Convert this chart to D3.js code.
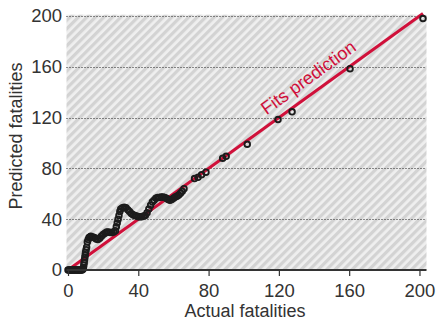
<!DOCTYPE html>
<html>
<head>
<meta charset="utf-8">
<script src="https://cdn.jsdelivr.net/npm/d3@7"></script>
<style>
  body { margin: 0; background: #fff; }
  text { font-family: "Liberation Sans", Arial, sans-serif; }
</style>
</head>
<body>
<script>
// Chart size
let width = 436;
let height = 322;

// Tick values
var xTicks = [0, 40, 80, 120, 160, 200];
var yTicks = [0, 40, 80, 120, 160, 200];

// Actual vs predicted fatalities
var actual = [0, 0.5, 1, 1.5, 2, 2.5, 3, 3.5, 4, 4.5, 5, 5.5, 6, 6.5, 7, 7.5, 8, 8.5,
  8.8, 9, 9.2, 9.4, 9.6, 9.8, 10, 10.3, 10.6, 11, 11.5, 12, 12.5, 13, 14, 15, 16, 17,
  18, 19, 20, 21, 22, 23, 24, 25, 26, 27, 27.5, 28, 28.5, 29, 29.5, 30, 31, 32, 33, 34,
  35, 36, 37, 38, 39, 40, 41, 42, 43, 44, 45, 46, 47, 48, 49, 50, 51, 52, 53, 54, 55,
  56, 57, 58, 59, 60, 61, 62, 63, 64, 65, 66, 72, 74, 76, 78.5, 88, 90, 102, 119.5,
  127.5, 160.5, 202];
var predicted = [0, 0, 0, 0, 0, 0, 0, 0, 0, 0, 0, 0, 0, 0, 0, 0, 0, 0.5,
  2, 4, 6, 8, 10, 12, 14, 16, 18, 22, 24, 25.5, 26, 26.5, 26, 25.5, 24.5, 24,
  25, 26.5, 28, 29, 30, 30, 29.5, 29.5, 30, 31, 34, 37, 40, 43, 46, 48, 49, 49.5, 49, 47.5,
  46, 44.5, 43.5, 43, 42.5, 42, 42, 42, 42.5, 43, 45, 48, 51, 53.5, 55, 56.5, 57, 57, 57.5, 57.5, 57,
  56.5, 55.5, 55, 55.5, 56.5, 57.5, 58, 59, 60.5, 62, 64, 72, 73, 75, 77, 88, 89.5, 99, 118.5,
  124.5, 158.5, 198];

// Reference line (prediction == actual)
var fitLine = [0, 202];

var points = actual.map(function(d, i) { return { a: d, p: predicted[i] }; });

var svg = d3.select('body')
            .append('svg')
            .attr('width', width)
            .attr('height', height);

var x = d3.scaleLinear().domain([0, 204]).range([68, 426.5]);
var y = d3.scaleLinear().domain([0, 201]).range([270, 14.7]);

// Hatched background pattern
var defs = svg.append('defs');
var pat = defs.append('pattern')
  .attr('id', 'hatch')
  .attr('patternUnits', 'userSpaceOnUse')
  .attr('width', 6)
  .attr('height', 6)
  .attr('patternTransform', 'rotate(45)');
pat.append('rect').attr('width', 6).attr('height', 6).attr('fill', '#efefef');
pat.append('rect').attr('width', 3.2).attr('height', 6).attr('fill', '#d3d3d3');

svg.append('rect')
  .attr('x', 66.5)
  .attr('y', y(201))
  .attr('width', x(204) - 66.5)
  .attr('height', y(0) - y(201))
  .attr('fill', 'url(#hatch)');

// Dotted gridlines
svg.append('g')
  .selectAll('line')
  .data(yTicks.slice(1))
  .join('line')
  .attr('x1', 66.5)
  .attr('x2', x(204))
  .attr('y1', function(d) { return Math.round(y(d)) + 0.5; })
  .attr('y2', function(d) { return Math.round(y(d)) + 0.5; })
  .attr('stroke', '#222')
  .attr('stroke-width', 1)
  .attr('stroke-dasharray', '1,2');

// Red fit line
svg.append('line')
  .attr('x1', x(fitLine[0]))
  .attr('y1', y(fitLine[0]))
  .attr('x2', x(fitLine[1]))
  .attr('y2', y(fitLine[1]))
  .attr('stroke', '#d0103a')
  .attr('stroke-width', 3);

// Data points as open circles
svg.append('g')
  .selectAll('circle')
  .data(points)
  .join('circle')
  .attr('cx', function(d) { return x(d.a); })
  .attr('cy', function(d) { return y(d.p); })
  .attr('r', 2.8)
  .attr('fill', 'none')
  .attr('stroke', '#1c1c1c')
  .attr('stroke-width', 1.9);

// Bottom axis
var xAxis = svg.append('g')
  .attr('transform', 'translate(0,' + 270 + ')')
  .call(d3.axisBottom(x).tickValues(xTicks).tickSize(6).tickSizeOuter(0).tickPadding(8));
xAxis.select('.domain').attr('stroke', '#333').attr('stroke-width', 2)
  .attr('d', 'M66.5,0H' + x(204));
xAxis.selectAll('.tick line').attr('stroke', '#333').attr('stroke-width', 1.2);
xAxis.selectAll('.tick text')
  .attr('fill', '#333')
  .style('font-size', '18.5px')
  .style('font-family', '"Liberation Sans", Arial, sans-serif');

// Left axis (labels only)
var yAxis = svg.append('g')
  .attr('transform', 'translate(66,0)')
  .call(d3.axisLeft(y).tickValues(yTicks).tickSize(0).tickPadding(4));
yAxis.select('.domain').remove();
yAxis.selectAll('.tick text')
  .attr('fill', '#333')
  .style('font-size', '18.5px')
  .style('font-family', '"Liberation Sans", Arial, sans-serif');

// Axis titles
svg.append('text')
  .attr('x', 245)
  .attr('y', 317)
  .attr('text-anchor', 'middle')
  .attr('fill', '#333')
  .style('font-size', '18px')
  .text('Actual fatalities');

svg.append('text')
  .attr('transform', 'translate(22,' + 136 + ') rotate(-90)')
  .attr('text-anchor', 'middle')
  .attr('fill', '#333')
  .style('font-size', '18px')
  .text('Predicted fatalities');

// Line annotation
var angle = Math.atan2(y(0) - y(100), x(100) - x(0)) * 180 / Math.PI;
svg.append('text')
  .attr('transform', 'translate(' + x(116) + ',' + y(116) + ') rotate(' + (-angle) + ') translate(0,-9)')
  .attr('fill', '#d0103a')
  .style('font-size', '18px')
  .text('Fits prediction');
</script>
</body>
</html>
